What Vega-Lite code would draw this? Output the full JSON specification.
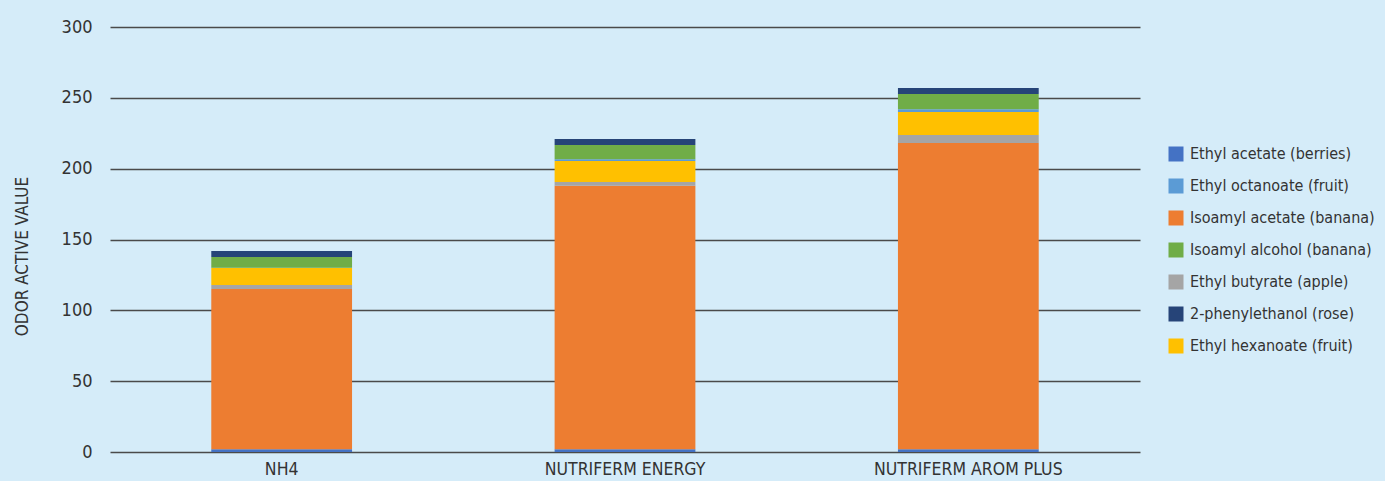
{
  "$schema": "https://vega.github.io/schema/vega-lite/v6.json",
  "width": 1030,
  "height": 425,
  "autosize": {"type": "none"},
  "padding": {"left": 110, "top": 27, "right": 245, "bottom": 29},
  "background": "#D5ECF9",
  "config": {
    "view": {"stroke": null},
    "font": "DejaVu Sans Condensed, Roboto, sans-serif"
  },
  "title": {
    "text": "IMPACT OF ORGANIC NITROGEN ON THE PRODUCTION OF AROMATIC COMPOUNDS",
    "font": "DejaVu Sans Condensed, Roboto, sans-serif",
    "fontWeight": "bold",
    "fontSize": 16,
    "color": "#222222",
    "anchor": "middle",
    "dx": 60,
    "offset": 21
  },
  "data": {
    "values": [
      {"treatment": "NH4", "compound": "Ethyl acetate (berries)", "value": 2},
      {"treatment": "NH4", "compound": "Isoamyl acetate (banana)", "value": 113},
      {"treatment": "NH4", "compound": "Ethyl butyrate (apple)", "value": 2.8},
      {"treatment": "NH4", "compound": "Ethyl hexanoate (fruit)", "value": 12},
      {"treatment": "NH4", "compound": "Ethyl octanoate (fruit)", "value": 0.3},
      {"treatment": "NH4", "compound": "Isoamyl alcohol (banana)", "value": 7.5},
      {"treatment": "NH4", "compound": "2-phenylethanol (rose)", "value": 4.3},
      {"treatment": "NUTRIFERM ENERGY", "compound": "Ethyl acetate (berries)", "value": 2},
      {"treatment": "NUTRIFERM ENERGY", "compound": "Isoamyl acetate (banana)", "value": 186},
      {"treatment": "NUTRIFERM ENERGY", "compound": "Ethyl butyrate (apple)", "value": 2.6},
      {"treatment": "NUTRIFERM ENERGY", "compound": "Ethyl hexanoate (fruit)", "value": 14.8},
      {"treatment": "NUTRIFERM ENERGY", "compound": "Ethyl octanoate (fruit)", "value": 1.2},
      {"treatment": "NUTRIFERM ENERGY", "compound": "Isoamyl alcohol (banana)", "value": 10.1},
      {"treatment": "NUTRIFERM ENERGY", "compound": "2-phenylethanol (rose)", "value": 4.2},
      {"treatment": "NUTRIFERM AROM PLUS", "compound": "Ethyl acetate (berries)", "value": 2},
      {"treatment": "NUTRIFERM AROM PLUS", "compound": "Isoamyl acetate (banana)", "value": 216.1},
      {"treatment": "NUTRIFERM AROM PLUS", "compound": "Ethyl butyrate (apple)", "value": 5.7},
      {"treatment": "NUTRIFERM AROM PLUS", "compound": "Ethyl hexanoate (fruit)", "value": 16.2},
      {"treatment": "NUTRIFERM AROM PLUS", "compound": "Ethyl octanoate (fruit)", "value": 1.9},
      {"treatment": "NUTRIFERM AROM PLUS", "compound": "Isoamyl alcohol (banana)", "value": 10.8},
      {"treatment": "NUTRIFERM AROM PLUS", "compound": "2-phenylethanol (rose)", "value": 4.2}
    ]
  },
  "transform": [
    {"calculate": "indexof(['Ethyl acetate (berries)','Isoamyl acetate (banana)','Ethyl butyrate (apple)','Ethyl hexanoate (fruit)','Ethyl octanoate (fruit)','Isoamyl alcohol (banana)','2-phenylethanol (rose)'], datum.compound)", "as": "stackOrder"}
  ],
  "mark": {"type": "bar"},
  "encoding": {
    "x": {
      "field": "treatment",
      "type": "nominal",
      "sort": ["NH4", "NUTRIFERM ENERGY", "NUTRIFERM AROM PLUS"],
      "scale": {"paddingInner": 0.59, "paddingOuter": 0.295},
      "axis": {
        "title": null,
        "labelAngle": 0,
        "labelFontSize": 17.5,
        "labelColor": "#333333",
        "labelPadding": 8,
        "labelLimit": 400,
        "ticks": false,
        "domain": false
      }
    },
    "y": {
      "field": "value",
      "type": "quantitative",
      "aggregate": "sum",
      "stack": "zero",
      "scale": {"domain": [0, 300], "nice": false},
      "axis": {
        "title": "ODOR ACTIVE VALUE",
        "titleFontSize": 17,
        "titleFontWeight": "normal",
        "titleColor": "#333333",
        "titleX": -88,
        "titleY": 229,
        "titleAngle": -90,
        "titleAlign": "center",
        "titleBaseline": "middle",
        "values": [0, 50, 100, 150, 200, 250, 300],
        "labelFontSize": 18,
        "labelColor": "#333333",
        "labelPadding": 18,
        "ticks": false,
        "domain": false,
        "grid": true,
        "gridColor": "#4a4a4a",
        "gridWidth": 1.5
      }
    },
    "color": {
      "field": "compound",
      "type": "nominal",
      "scale": {
        "domain": ["Ethyl acetate (berries)", "Ethyl octanoate (fruit)", "Isoamyl acetate (banana)", "Isoamyl alcohol (banana)", "Ethyl butyrate (apple)", "2-phenylethanol (rose)", "Ethyl hexanoate (fruit)"],
        "range": ["#4472C4", "#5B9BD5", "#ED7D31", "#70AD47", "#A5A5A5", "#264478", "#FFC000"]
      },
      "legend": {
        "title": null,
        "orient": "none",
        "legendX": 1058,
        "legendY": 119,
        "symbolType": "square",
        "symbolSize": 225,
        "symbolStrokeWidth": 0,
        "labelFontSize": 16,
        "labelColor": "#333333",
        "labelOffset": 6,
        "rowPadding": 16,
        "labelLimit": 300
      }
    },
    "order": {"field": "stackOrder", "type": "quantitative"}
  }
}
